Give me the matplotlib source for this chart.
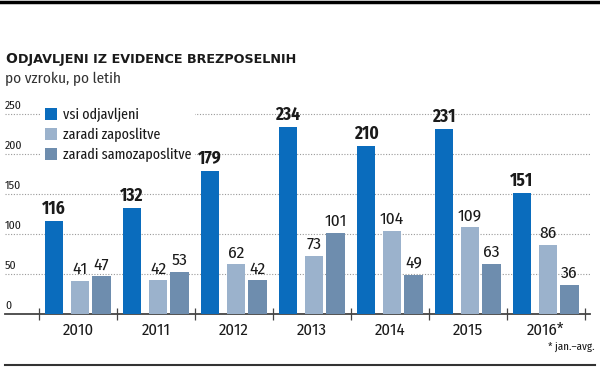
import matplotlib
matplotlib.use("Agg")
import matplotlib.pyplot as plt
import numpy as np

years = ["2010", "2011", "2012", "2013", "2014", "2015", "2016*"]
vsi = [116, 132, 179, 234, 210, 231, 151]
zaposlitve = [41, 42, 62, 73, 104, 109, 86]
samozaposlitve = [47, 53, 42, 101, 49, 63, 36]
series_names = ["vsi odjavljeni", "zaradi zaposlitve", "zaradi samozaposlitve"]
yticks = [0, 50, 100, 150, 200, 250]

C_BLUE = "#0a6cbd"
C_LIGHT = "#9bb2cc"
C_DARK = "#6e8dae"
TXT = "#1a1a1a"

FONT = ["Fira Sans Condensed", "DejaVu Sans"]
FONT_XC = ["Fira Sans Extra Condensed", "Fira Sans Condensed", "DejaVu Sans"]
FONT_T = ["DejaVu Sans"]
plt.rcParams["font.family"] = FONT

W, H = 600, 367
fig = plt.figure(figsize=(W / 100, H / 100), dpi=100)

# axes: x 5..590 px, y 314(bottom)..104(top)
ax = fig.add_axes([5 / W, (H - 314) / H, 585 / W, 210 / H])
ax.set_xlim(-0.936, 6.564)
ax.set_ylim(0, 262.5)

x = np.arange(len(years))
off_b, off_l, off_d = -0.308, 0.026, 0.30
ax.bar(x + off_b, vsi, 0.232, color=C_BLUE, label=series_names[0], zorder=3)
ax.bar(x + off_l, zaposlitve, 0.235, color=C_LIGHT, label=series_names[1], zorder=3)
ax.bar(x + off_d, samozaposlitve, 0.245, color=C_DARK, label=series_names[2], zorder=3)

for xi, v in zip(x + off_b, vsi):
    ax.annotate(str(v), (xi, v), xytext=(0, 2.5), textcoords="offset points",
                ha="center", va="bottom", fontsize=12.5, fontweight="bold", color=TXT)
for xs, vals in ((x + off_l, zaposlitve), (x + off_d, samozaposlitve)):
    for xi, v in zip(xs, vals):
        ax.annotate(str(v), (xi, v), xytext=(0, 2.5), textcoords="offset points",
                    ha="center", va="bottom", fontsize=12.5, color=TXT)

# grid
for yv in yticks[1:]:
    ax.axhline(yv, color="#9a9a9a", lw=0.8, ls=(0, (1, 1.5)), zorder=1)
for yv in yticks:
    ax.text(0.0, yv + 3, str(yv), transform=ax.get_yaxis_transform(),
            ha="left", va="bottom", fontsize=8.5, color=TXT)

for s in ["top", "right", "left"]:
    ax.spines[s].set_visible(False)
ax.spines["bottom"].set_color("#444444")
ax.spines["bottom"].set_linewidth(1.3)
ax.set_yticks([])
ax.set_xticks(x)
ax.set_xticklabels(years, fontsize=12, color=TXT)
ax.tick_params(axis="x", which="major", length=0, pad=6)
ax.set_xticks(np.arange(len(years) + 1) - 0.5, minor=True)
ax.tick_params(axis="x", which="minor", direction="inout", length=9, width=0.9, color="#444444")

leg = ax.legend(loc="upper left", bbox_to_anchor=(36 / 585, 1.0), frameon=True,
                prop={"family": FONT_XC, "size": 11}, handlelength=0.8, handleheight=0.8,
                handletextpad=0.4, labelspacing=0.38, borderpad=0.25, borderaxespad=0.0)
leg.get_frame().set_facecolor("white")
leg.get_frame().set_edgecolor("none")
leg.get_frame().set_alpha(1)
leg.set_zorder(5)
for t in leg.get_texts():
    t.set_color(TXT)

# title (small caps imitation)
base_y = 1 - 63 / H
t1 = fig.text(5 / W, base_y, "O", fontsize=10, fontweight="bold", color=TXT,
              ha="left", va="baseline", family=FONT_T)
fig.canvas.draw()
bb = t1.get_window_extent()
t2 = fig.text((bb.x1 + 0.8) / W, base_y, "DJAVLJENI IZ EVIDENCE BREZPOSELNIH", fontsize=8.2,
              fontweight="bold", color=TXT, ha="left", va="baseline", family=FONT_T)
fig.canvas.draw()
target_right = 297
w2 = t2.get_window_extent().width
t2.set_fontsize(8.2 * (target_right - (bb.x1 + 0.8)) / w2)

fig.text(5 / W, 1 - 83 / H, "po vzroku, po letih", fontsize=11, color="#333333",
         ha="left", va="baseline", family=FONT)

fig.text(595 / W, 1 - 347 / H, "* jan.–avg.", fontsize=8.5, color=TXT, ha="right", va="center",
         family=FONT_XC)

# decorative rules
fig.add_artist(plt.Line2D([0, 1], [1 - 2 / H, 1 - 2 / H], color="black", lw=2.5))
fig.add_artist(plt.Line2D([5 / W, 595 / W], [1 - 365 / H, 1 - 365 / H], color="#333333", lw=1.5))

fig.savefig("out.png", dpi=100)
